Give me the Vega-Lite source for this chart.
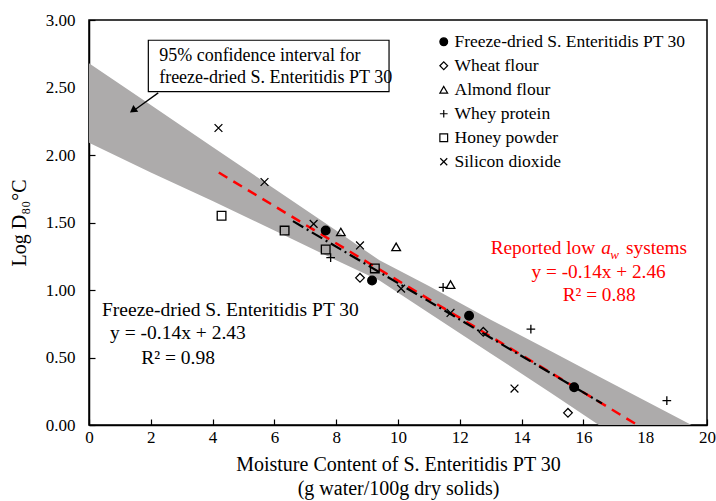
{
  "$schema": "https://vega.github.io/schema/vega-lite/v6.json",
  "width": 618,
  "height": 405,
  "autosize": {"type": "none"},
  "padding": {"left": 89, "top": 20, "right": 9, "bottom": 76},
  "background": "white",
  "config": {
    "font": "Liberation Serif",
    "view": {"stroke": "black", "strokeWidth": 1.5},
    "axis": {
      "domainColor": "black", "domainWidth": 1.5, "tickColor": "black", "tickWidth": 1.2,
      "grid": false, "labelFont": "Liberation Serif", "labelFontSize": 17, "labelColor": "black",
      "titleFont": "Liberation Serif", "titleFontSize": 20, "titleFontWeight": "normal", "titleColor": "black"
    },
    "legend": {
      "labelFont": "Liberation Serif", "labelFontSize": 17.5, "labelColor": "black", "labelLimit": 0,
      "symbolStrokeColor": "black", "symbolStrokeWidth": 1.2, "symbolSize": 60,
      "rowPadding": 5, "labelOffset": 2, "padding": 0
    }
  },
  "datasets": {
    "band": [
      {"x": 0, "upper": 2.68, "lower": 2.09},
      {"x": 2, "upper": 2.37, "lower": 1.87},
      {"x": 4, "upper": 2.06, "lower": 1.66},
      {"x": 6, "upper": 1.75, "lower": 1.44},
      {"x": 8, "upper": 1.44, "lower": 1.22},
      {"x": 9.4, "upper": 1.22, "lower": 1.07},
      {"x": 11, "upper": 1.03, "lower": 0.83},
      {"x": 13, "upper": 0.78, "lower": 0.53},
      {"x": 15, "upper": 0.54, "lower": 0.23},
      {"x": 16.5, "upper": 0.36, "lower": 0.0},
      {"x": 19.5, "upper": 0.0, "lower": 0.0}
    ],
    "redline": [{"x": 4.2, "y": 1.87}, {"x": 17.75, "y": 0.0}],
    "blackline": [{"x": 6.6, "y": 1.51}, {"x": 16.6, "y": 0.16}],
    "points": [
      {"series": "Freeze-dried S. Enteritidis PT 30", "x": 7.66, "y": 1.44},
      {"series": "Freeze-dried S. Enteritidis PT 30", "x": 9.16, "y": 1.07},
      {"series": "Freeze-dried S. Enteritidis PT 30", "x": 12.3, "y": 0.81},
      {"series": "Freeze-dried S. Enteritidis PT 30", "x": 15.7, "y": 0.28},
      {"series": "Wheat flour", "x": 8.77, "y": 1.09},
      {"series": "Wheat flour", "x": 12.76, "y": 0.69},
      {"series": "Wheat flour", "x": 15.5, "y": 0.09},
      {"series": "Almond flour", "x": 8.15, "y": 1.43},
      {"series": "Almond flour", "x": 9.94, "y": 1.32},
      {"series": "Almond flour", "x": 11.7, "y": 1.04},
      {"series": "Whey protein", "x": 7.82, "y": 1.24},
      {"series": "Whey protein", "x": 11.46, "y": 1.02},
      {"series": "Whey protein", "x": 14.3, "y": 0.71},
      {"series": "Whey protein", "x": 18.7, "y": 0.18},
      {"series": "Honey powder", "x": 4.29, "y": 1.55},
      {"series": "Honey powder", "x": 6.33, "y": 1.44},
      {"series": "Honey powder", "x": 7.66, "y": 1.3},
      {"series": "Honey powder", "x": 9.25, "y": 1.16},
      {"series": "Silicon dioxide", "x": 4.19, "y": 2.2},
      {"series": "Silicon dioxide", "x": 5.68, "y": 1.8},
      {"series": "Silicon dioxide", "x": 7.27, "y": 1.49},
      {"series": "Silicon dioxide", "x": 8.77, "y": 1.33},
      {"series": "Silicon dioxide", "x": 10.1, "y": 1.01},
      {"series": "Silicon dioxide", "x": 11.7, "y": 0.83},
      {"series": "Silicon dioxide", "x": 13.77, "y": 0.27}
    ],
    "box": [{"x": 1.92, "x2": 9.71, "y": 2.85, "y2": 2.47}],
    "boxtext": [
      {"x": 2.27, "y": 2.73, "text": "95% confidence interval for"},
      {"x": 2.27, "y": 2.57, "text": "freeze-dried S. Enteritidis PT 30"}
    ],
    "arrow": [{"x": 2.24, "y": 2.46}, {"x": 1.45, "y": 2.33}],
    "arrowhead": [{"x": 1.42, "y": 2.33}],
    "blacktext": [
      {"x": 0.42, "y": 0.85, "text": "Freeze-dried S. Enteritidis PT 30"},
      {"x": 0.68, "y": 0.68, "text": "y = -0.14x + 2.43"},
      {"x": 1.69, "y": 0.5, "text": "R² = 0.98"}
    ],
    "redtext": [
      {"x": 13.0, "y": 1.31, "text": "Reported low"},
      {"x": 17.38, "y": 1.31, "text": "systems"},
      {"x": 14.32, "y": 1.13, "text": "y = -0.14x + 2.46"},
      {"x": 15.33, "y": 0.96, "text": "R² = 0.88"}
    ],
    "redital": [{"x": 16.58, "y": 1.31, "text": "a"}],
    "redsub": [{"x": 16.87, "y": 1.26, "text": "w"}]
  },
  "layer": [
    {
      "data": {"name": "band"},
      "mark": {"type": "area", "color": "#adabab", "opacity": 1},
      "encoding": {
        "x": {"field": "x", "type": "quantitative", "scale": {"domain": [0, 20], "nice": false},
          "axis": {"values": [0, 2, 4, 6, 8, 10, 12, 14, 16, 18, 20], "tickSize": -6, "labelPadding": 10,
            "labelFlush": false, "title": ["Moisture Content of S. Enteritidis PT 30", "(g water/100g dry solids)"],
            "titlePadding": 9, "titleLineHeight": 24}},
        "y": {"field": "upper", "type": "quantitative", "scale": {"domain": [0, 3], "nice": false},
          "axis": {"values": [0, 0.5, 1, 1.5, 2, 2.5, 3], "format": ".2f", "tickSize": -6, "labelPadding": 20,
            "labelFlush": false, "title": "Log D₈₀°C", "titlePadding": 16}},
        "y2": {"field": "lower"}
      }
    },
    {
      "data": {"name": "redline"},
      "mark": {"type": "line", "color": "#ff0000", "strokeWidth": 2.5, "strokeDash": [10, 7]},
      "encoding": {"x": {"field": "x", "type": "quantitative"}, "y": {"field": "y", "type": "quantitative"}}
    },
    {
      "data": {"name": "blackline"},
      "mark": {"type": "line", "color": "black", "strokeWidth": 2.2, "strokeDash": [12, 4, 2, 4]},
      "encoding": {"x": {"field": "x", "type": "quantitative"}, "y": {"field": "y", "type": "quantitative"}}
    },
    {
      "data": {"name": "points"},
      "mark": {"type": "point", "filled": false, "stroke": "black", "strokeWidth": 1.3, "size": 75, "opacity": 1},
      "encoding": {
        "x": {"field": "x", "type": "quantitative"},
        "y": {"field": "y", "type": "quantitative"},
        "shape": {"field": "series", "type": "nominal",
          "scale": {"domain": ["Freeze-dried S. Enteritidis PT 30", "Wheat flour", "Almond flour", "Whey protein", "Honey powder", "Silicon dioxide"],
            "range": ["circle", "diamond", "triangle-up", "M-1,0L1,0M0,-1L0,1", "square", "M-0.9,-0.9L0.9,0.9M-0.9,0.9L0.9,-0.9"]},
          "legend": {"title": null, "orient": "none", "legendX": 346, "legendY": 13}},
        "fill": {"field": "series", "type": "nominal",
          "scale": {"domain": ["Freeze-dried S. Enteritidis PT 30", "Wheat flour", "Almond flour", "Whey protein", "Honey powder", "Silicon dioxide"],
            "range": ["black", "transparent", "transparent", "transparent", "transparent", "transparent"]},
          "legend": {"title": null, "orient": "none", "legendX": 346, "legendY": 13}},
        "stroke": {"field": "series", "type": "nominal",
          "scale": {"domain": ["Freeze-dried S. Enteritidis PT 30", "Wheat flour", "Almond flour", "Whey protein", "Honey powder", "Silicon dioxide"],
            "range": ["black", "black", "black", "black", "black", "black"]},
          "legend": {"title": null, "orient": "none", "legendX": 346, "legendY": 13}}
      }
    },
    {
      "data": {"name": "box"},
      "mark": {"type": "rect", "fill": "white", "stroke": "black", "strokeWidth": 1.2},
      "encoding": {"x": {"field": "x", "type": "quantitative"}, "x2": {"field": "x2"}, "y": {"field": "y", "type": "quantitative"}, "y2": {"field": "y2"}}
    },
    {
      "data": {"name": "boxtext"},
      "mark": {"type": "text", "align": "left", "baseline": "middle", "fontSize": 18, "font": "Liberation Serif", "color": "black"},
      "encoding": {"x": {"field": "x", "type": "quantitative"}, "y": {"field": "y", "type": "quantitative"}, "text": {"field": "text"}}
    },
    {
      "data": {"name": "arrow"},
      "mark": {"type": "line", "color": "black", "strokeWidth": 1.3},
      "encoding": {"x": {"field": "x", "type": "quantitative"}, "y": {"field": "y", "type": "quantitative"}}
    },
    {
      "data": {"name": "arrowhead"},
      "mark": {"type": "point", "shape": "triangle-up", "filled": true, "color": "black", "size": 70, "angle": 234, "opacity": 1},
      "encoding": {"x": {"field": "x", "type": "quantitative"}, "y": {"field": "y", "type": "quantitative"}}
    },
    {
      "data": {"name": "blacktext"},
      "mark": {"type": "text", "align": "left", "baseline": "middle", "fontSize": 19.5, "font": "Liberation Serif", "color": "black"},
      "encoding": {"x": {"field": "x", "type": "quantitative"}, "y": {"field": "y", "type": "quantitative"}, "text": {"field": "text"}}
    },
    {
      "data": {"name": "redtext"},
      "mark": {"type": "text", "align": "left", "baseline": "middle", "fontSize": 19.3, "font": "Liberation Serif", "color": "#ff0000"},
      "encoding": {"x": {"field": "x", "type": "quantitative"}, "y": {"field": "y", "type": "quantitative"}, "text": {"field": "text"}}
    },
    {
      "data": {"name": "redital"},
      "mark": {"type": "text", "align": "left", "baseline": "middle", "fontSize": 19.3, "fontStyle": "italic", "font": "Liberation Serif", "color": "#ff0000"},
      "encoding": {"x": {"field": "x", "type": "quantitative"}, "y": {"field": "y", "type": "quantitative"}, "text": {"field": "text"}}
    },
    {
      "data": {"name": "redsub"},
      "mark": {"type": "text", "align": "left", "baseline": "middle", "fontSize": 13, "fontStyle": "italic", "font": "Liberation Serif", "color": "#ff0000"},
      "encoding": {"x": {"field": "x", "type": "quantitative"}, "y": {"field": "y", "type": "quantitative"}, "text": {"field": "text"}}
    }
  ]
}
